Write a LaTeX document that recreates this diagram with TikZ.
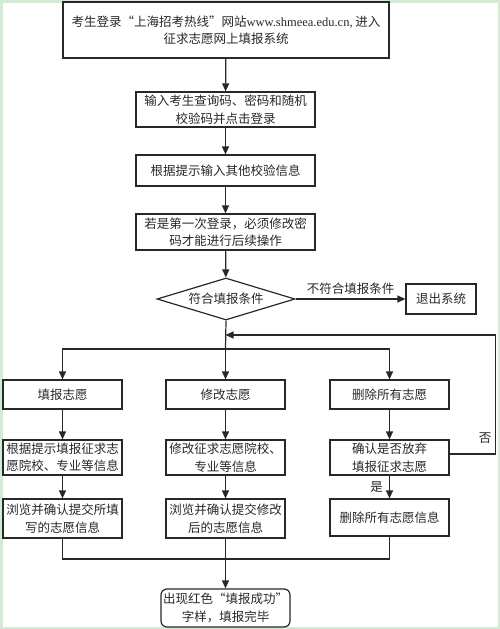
\documentclass[tikz,border=0pt]{standalone}
\usepackage{fontspec}
\setmainfont{Liberation Serif}
\newfontfamily\cjk{Noto Sans CJK SC}
\usetikzlibrary{arrows.meta,shapes.geometric}
\definecolor{framec}{RGB}{212,234,212}
\definecolor{ink}{RGB}{40,40,40}
\begin{document}
\begin{tikzpicture}[x=1pt,y=-1pt,
  every node/.style={font=\cjk\fontsize{12.5}{17.5}\selectfont, text=ink},
  box/.style={draw=ink, line width=1.2pt, rectangle, inner sep=0pt, align=center},
  dia/.style={draw=ink, line width=1.2pt, diamond, aspect=3.3, inner sep=0pt, minimum width=138pt, minimum height=42pt},
  conn/.style={draw=ink, line width=1.2pt},
  arr/.style={conn, -{Triangle[length=8pt,width=7pt]}},
  lbl/.style={inner sep=0pt}]
\useasboundingbox (0,0) rectangle (500,629);
\draw[framec, line width=2.5pt] (1.25,1.25) rectangle (498.75,627.75);

\node[box, minimum width=326pt, minimum height=56pt] (b1) at (226,30)
  {考生登录“上海招考热线”网站{\rmfamily www.shmeea.edu.cn,} 进入\\征求志愿网上填报系统};
\node[box, minimum width=179pt, minimum height=35pt] (b2) at (225.5,109.5)
  {输入考生查询码、密码和随机\\校验码并点击登录};
\node[box, minimum width=179pt, minimum height=31pt] (b3) at (225.5,170.5)
  {根据提示输入其他校验信息};
\node[box, minimum width=179pt, minimum height=36pt] (b4) at (225.5,232)
  {若是第一次登录，必须修改密\\码才能进行后续操作};
\node[dia] (d) at (226,299) {符合填报条件};
\node[box, minimum width=70pt, minimum height=30pt] (ex) at (441,299) {退出系统};

\node[box, minimum width=119pt, minimum height=29pt] (l1) at (62.5,394.5) {填报志愿};
\node[box, minimum width=119pt, minimum height=29pt] (m1) at (225.5,394.5) {修改志愿};
\node[box, minimum width=119pt, minimum height=29pt] (r1) at (389.5,394.5) {删除所有志愿};

\node[box, minimum width=119pt, minimum height=35pt] (l2) at (62.5,457.5) {根据提示填报征求志\\愿院校、专业等信息};
\node[box, minimum width=119pt, minimum height=35pt] (m2) at (225.5,457.5) {修改征求志愿院校、\\专业等信息};
\node[box, minimum width=119pt, minimum height=35pt] (r2) at (389.5,457.5) {确认是否放弃\\填报征求志愿};

\node[box, minimum width=119pt, minimum height=39pt] (l3) at (62.5,518.5) {浏览并确认提交所填\\写的志愿信息};
\node[box, minimum width=119pt, minimum height=39pt] (m3) at (225.5,518.5) {浏览并确认提交修改\\后的志愿信息};
\node[box, minimum width=119pt, minimum height=37pt] (r3) at (389.5,517.5) {删除所有志愿信息};

\node[box, rounded corners=6pt, minimum width=129pt, minimum height=38pt] (fin) at (225.5,608)
  {出现红色“填报成功”\\字样，填报完毕};

\node[lbl] (no) at (485,438) {否};

% connectors
\draw[arr] (b1) -- (b2);
\draw[arr] (b2) -- (b3);
\draw[arr] (b3) -- (b4);
\draw[arr] (b4) -- (d);
\draw[arr] (d.east) -- (ex.west) node[lbl, midway, above=4pt] {不符合填报条件};

\coordinate (br) at (225.5,349);
\coordinate (fb) at (225.5,335);
\draw[conn] (d.south) -- (br);
\draw[arr] (br) -- (m1.north);
\draw[arr] (br) -| (l1.north);
\draw[arr] (br) -| (r1.north);

\draw[arr] (l1) -- (l2);
\draw[arr] (m1) -- (m2);
\draw[arr] (r1) -- (r2);
\draw[arr] (l2) -- (l3);
\draw[arr] (m2) -- (m3);
\draw[arr] (r2) -- (r3) node[lbl, midway, left=6pt] {是};

\draw[arr] ([yshift=3.5pt]r2.east) -- ++(46,0) |- (fb);

\coordinate (mg) at (225.5,559);
\draw[conn] (l3.south) |- (mg);
\draw[conn] (r3.south) |- (mg);
\draw[arr] (m3.south) -- (fin.north);
\end{tikzpicture}
\end{document}
